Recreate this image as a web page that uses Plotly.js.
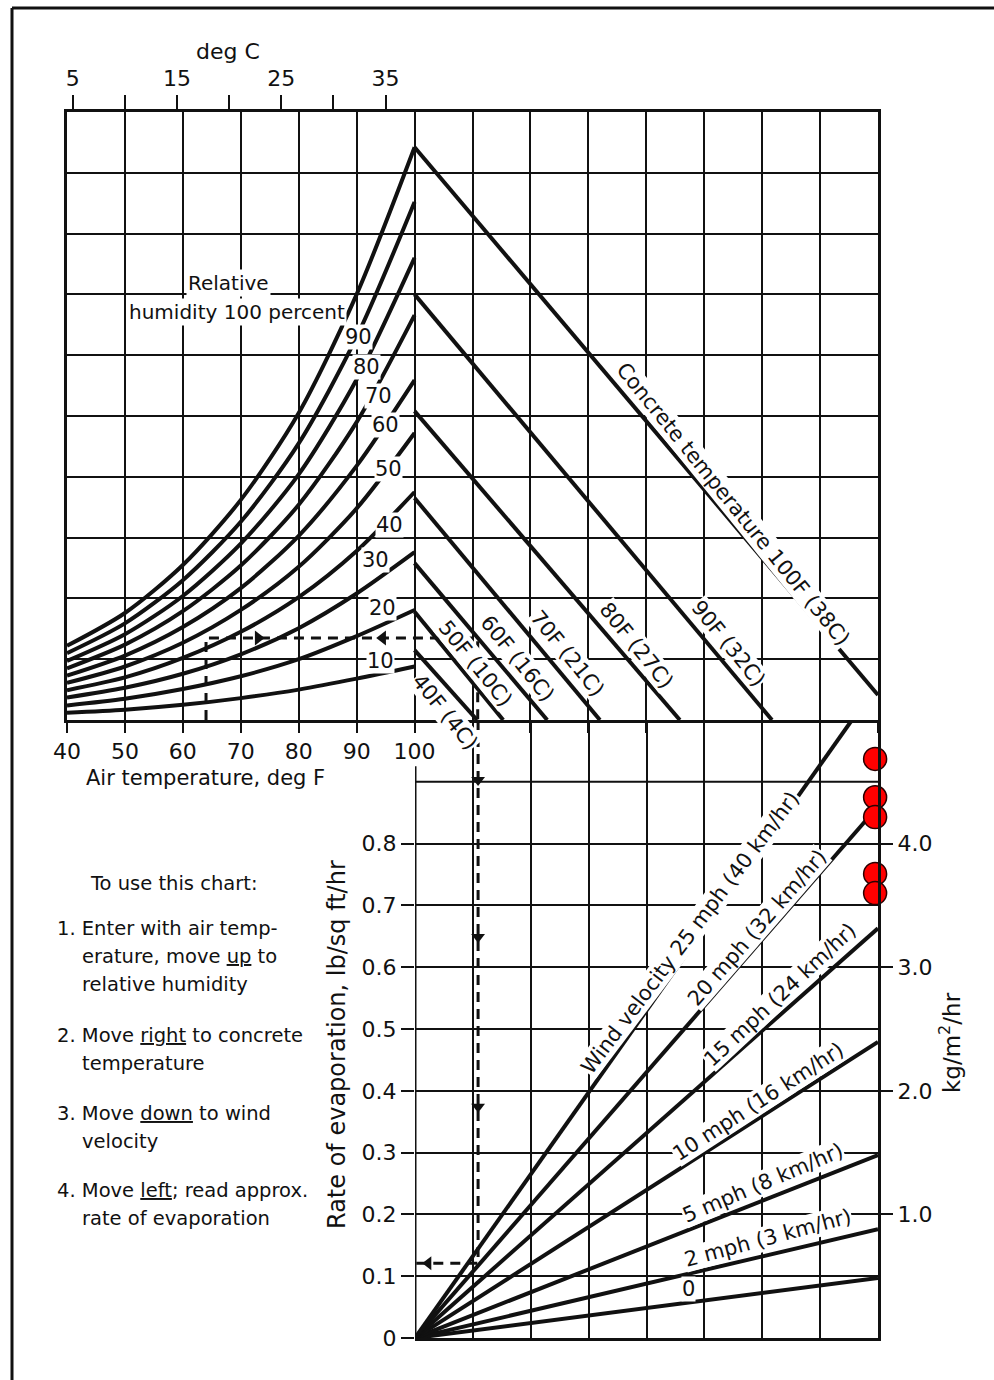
<!DOCTYPE html>
<html><head><meta charset="utf-8">
<script src="https://cdn.plot.ly/plotly-3.0.1.min.js"></script>
<style>html,body{margin:0;padding:0;background:#fff;}#chart{width:994px;height:1380px;}</style>
</head><body><div id="chart"></div>
<script>
// ---------------- data ----------------
const airTempF = [40, 50, 60, 70, 80, 90, 100];
const rhNames = ['100', '90', '80', '70', '60', '50', '40', '30', '20', '10'];
// vapour pressure (psi) read at each air temperature
const rh100 = [0.122, 0.176, 0.255, 0.362, 0.505, 0.700, 0.942];
const rh90  = [0.110, 0.159, 0.230, 0.326, 0.455, 0.630, 0.852];
const rh80  = [0.097, 0.141, 0.204, 0.290, 0.404, 0.560, 0.760];
const rh70  = [0.085, 0.124, 0.179, 0.254, 0.354, 0.490, 0.666];
const rh60  = [0.073, 0.106, 0.153, 0.217, 0.303, 0.418, 0.559];
const rh50  = [0.061, 0.088, 0.127, 0.181, 0.252, 0.348, 0.472];
const rh40  = [0.049, 0.070, 0.102, 0.145, 0.202, 0.278, 0.375];
const rh30  = [0.037, 0.053, 0.076, 0.108, 0.151, 0.208, 0.276];
const rh20  = [0.024, 0.035, 0.051, 0.072, 0.100, 0.138, 0.181];
const rh10  = [0.012, 0.017, 0.025, 0.036, 0.050, 0.068, 0.088];
const rhCurves = [rh100, rh90, rh80, rh70, rh60, rh50, rh40, rh30, rh20, rh10];

const concreteNames = ['40F (4C)', '50F (10C)', '60F (16C)', '70F (21C)', '80F (27C)', '90F (32C)', 'Concrete temperature 100F (38C)'];
const concreteStartVap = [0.115, 0.178, 0.258, 0.365, 0.508, 0.700, 0.942];
const concreteEndX = [110.8, 115.3, 122.9, 132.0, 145.8, 161.7, 180];
const concreteEndVap = [0, 0, 0, 0, 0, 0, 0.041];

const windNames = ['0', '2 mph (3 km/hr)', '5 mph (8 km/hr)', '10 mph (16 km/hr)', '15 mph (24 km/hr)', '20 mph (32 km/hr)', 'Wind velocity 25 mph (40 km/hr)'];
const windEndX = [180, 180, 180, 180, 180, 180, 175.5];
const windEndRate = [0.097, 0.176, 0.296, 0.479, 0.663, 0.860, 1.0];

const redDotX = [179.5, 179.5, 179.5, 179.5, 179.5];
const redDotRate = [0.937, 0.875, 0.843, 0.751, 0.720];

// worked example path
const exAirTemp = 64, exVap = 0.135, exX = 110.9, exRate = 0.121;
const exArrowTopX = [73, 94.5];
const exArrowTopSym = ['triangle-right', 'triangle-left'];
const exArrowDownRate = [0.903, 0.649, 0.374];
const exArrowLeftX = [102.3];

// ticks
const airTicks = [40, 50, 60, 70, 80, 90, 100, 110, 120, 130, 140, 150, 160, 170, 180];
const airTickText = ['40', '50', '60', '70', '80', '90', '100', ' ', ' ', ' ', ' ', ' ', ' ', ' ', ' '];
const degCTicks = [5, 10, 15, 20, 25, 30, 35];
const degCTickText = ['5', ' ', '15', ' ', '25', ' ', '35'];
const vapGrid = [0.1, 0.2, 0.3, 0.4, 0.5, 0.6, 0.7, 0.8, 0.9];
const rateTicks = [0, 0.1, 0.2, 0.3, 0.4, 0.5, 0.6, 0.7, 0.8];
const rateTickText = ['0', '0.1', '0.2', '0.3', '0.4', '0.5', '0.6', '0.7', '0.8'];
const kgTicks = [1, 2, 3, 4];
const kgTickText = ['1.0', '2.0', '3.0', '4.0'];
const bottomVertGrid = [110, 120, 130, 140, 150, 160, 170];

// ---------------- layout helpers ----------------
const W = 994, H = 1380;
const PX = x => x / W;
const PY = y => 1 - y / H;
const FONT = 'DejaVu Sans, Liberation Sans, sans-serif';
const INK = '#111';
const F = (s) => ({family: FONT, size: s, color: INK});

const traces = [];
rhCurves.forEach((ys, i) => traces.push({
  x: airTempF, y: ys, xaxis: 'x', yaxis: 'y', mode: 'lines',
  line: {color: INK, width: 4, shape: 'spline', smoothing: 0.8}, hoverinfo: 'skip', name: rhNames[i]
}));
concreteNames.forEach((n, i) => traces.push({
  x: [100, concreteEndX[i]], y: [concreteStartVap[i], concreteEndVap[i]], xaxis: 'x', yaxis: 'y',
  mode: 'lines', line: {color: INK, width: 4}, hoverinfo: 'skip', name: n
}));
windNames.forEach((n, i) => traces.push({
  x: [100, windEndX[i]], y: [0, windEndRate[i]], xaxis: 'x2', yaxis: 'y2',
  mode: 'lines', line: {color: INK, width: 4}, hoverinfo: 'skip', name: n
}));
// example dashed path
traces.push({x: [exAirTemp, exAirTemp, exX, exX], y: [0, exVap, exVap, 0], xaxis: 'x', yaxis: 'y',
  mode: 'lines', line: {color: INK, width: 3, dash: '10px,7px'}, hoverinfo: 'skip'});
traces.push({x: [exX, exX, 100], y: [1.0, exRate, exRate], xaxis: 'x2', yaxis: 'y2',
  mode: 'lines', line: {color: INK, width: 3, dash: '10px,7px'}, hoverinfo: 'skip'});
traces.push({x: exArrowTopX, y: exArrowTopX.map(() => exVap), xaxis: 'x', yaxis: 'y', mode: 'markers',
  marker: {symbol: exArrowTopSym, size: 13, color: INK}, hoverinfo: 'skip'});
traces.push({x: exArrowDownRate.map(() => exX), y: exArrowDownRate, xaxis: 'x2', yaxis: 'y2', mode: 'markers',
  marker: {symbol: 'triangle-down', size: 12, color: INK}, hoverinfo: 'skip'});
traces.push({x: exArrowLeftX, y: [exRate], xaxis: 'x2', yaxis: 'y2', mode: 'markers',
  marker: {symbol: 'triangle-left', size: 12, color: INK}, hoverinfo: 'skip'});
// empty traces so the deg C axis and the kg/m2/hr axis are drawn
traces.push({x: [], y: [], xaxis: 'x3', yaxis: 'y', mode: 'markers', hoverinfo: 'skip'});
traces.push({x: [], y: [], xaxis: 'x2', yaxis: 'y3', mode: 'markers', hoverinfo: 'skip'});
// red dots
traces.push({x: redDotX, y: redDotRate, xaxis: 'x2', yaxis: 'y2', mode: 'markers', cliponaxis: false,
  marker: {size: 23, color: '#ff0000', line: {color: '#2a0000', width: 1.5}}, hoverinfo: 'skip'});

const ann = [];
function A(text, x, y, size, angle, opt) {
  ann.push(Object.assign({text: text, xref: 'paper', yref: 'paper', x: PX(x), y: PY(y),
    showarrow: false, xanchor: 'center', yanchor: 'middle', textangle: angle || 0,
    font: F(size)}, opt || {}));
}
const BG = {bgcolor: '#ffffff', borderpad: 1};
A('deg C', 228, 52, 22);
A('Air temperature, deg F', 205, 778, 21);
A('Relative', 228, 283, 20, 0, BG);
A('humidity 100 percent', 237, 312, 20, 0, BG);
const rhLabelPos = [[358, 337], [366, 367], [378, 396], [385, 425], [388, 469], [389, 525], [375, 560], [382, 608], [380, 661]];
rhNames.slice(1).forEach((n, i) => A(n, rhLabelPos[i][0], rhLabelPos[i][1], 21, 0, {bgcolor: '#fff', borderpad: 0}));
const concreteLabelPos = [[445, 712], [475, 663], [517, 658], [567, 653], [636, 645], [728, 643], [733, 504]];
concreteNames.forEach((n, i) => A(n, concreteLabelPos[i][0], concreteLabelPos[i][1], 21, 51, {bgcolor: '#fff', borderpad: 0}));
const windLabelPos = [[688, 1289, 0], [768, 1238, -15], [763, 1183, -23], [758, 1102, -33], [780, 995, -43], [757, 928, -49], [690, 933, -53]];
windNames.forEach((n, i) => A(n, windLabelPos[i][0], windLabelPos[i][1], 21, windLabelPos[i][2], {bgcolor: '#fff', borderpad: 0}));
A('Rate of evaporation, lb/sq ft/hr', 337, 1045, 24, -90);
A('kg/m<sup>2</sup>/hr', 950, 1043, 23, -90);
// instructions
const L = {xanchor: 'left'};
A('To use this chart:', 88, 883, 19.5, 0, L);
A('1. Enter with air temp-', 55, 928, 19.5, 0, L);
A('erature, move <u>up</u> to', 80, 956, 19.5, 0, L);
A('relative humidity', 80, 984, 19.5, 0, L);
A('2. Move <u>right</u> to concrete', 55, 1035, 19.5, 0, L);
A('temperature', 80, 1063, 19.5, 0, L);
A('3. Move <u>down</u> to wind', 55, 1113, 19.5, 0, L);
A('velocity', 80, 1141, 19.5, 0, L);
A('4. Move <u>left</u>; read approx.', 55, 1190, 19.5, 0, L);
A('rate of evaporation', 80, 1218, 19.5, 0, L);

const shapes = [
  // outer frame (top and left edges)
  {type: 'line', xref: 'paper', yref: 'paper', x0: PX(12), y0: PY(8), x1: PX(994), y1: PY(8), line: {color: INK, width: 3}},
  {type: 'line', xref: 'paper', yref: 'paper', x0: PX(12), y0: PY(8), x1: PX(12), y1: PY(1380), line: {color: INK, width: 3}},
  // left axis of evaporation chart (stops below the "100" label)
  {type: 'line', xref: 'x2', yref: 'y2', x0: 100, y0: 0, x1: 100, y1: 0.925, line: {color: INK, width: 3}, layer: 'below'},
  // 0.9 gridline
  {type: 'line', xref: 'x2', yref: 'y2', x0: 100, y0: 0.9, x1: 180, y1: 0.9, line: {color: INK, width: 2}, layer: 'below'}
];

const gridStyle = {showgrid: true, gridcolor: INK, gridwidth: 2, zeroline: false};
const layout = {
  width: W, height: H, margin: {l: 0, r: 0, t: 0, b: 0},
  paper_bgcolor: '#fff', plot_bgcolor: 'rgba(0,0,0,0)', showlegend: false,
  font: F(22),
  xaxis: Object.assign({domain: [PX(67), PX(878)], range: [40, 180], anchor: 'y',
    tickvals: airTicks, ticktext: airTickText, ticks: 'outside', ticklen: 10, tickwidth: 2, tickcolor: INK,
    showline: true, linewidth: 3, linecolor: INK, tickfont: F(22)}, gridStyle),
  xaxis3: {overlaying: 'x', side: 'top', anchor: 'y', range: [(40 - 32) / 1.8, (180 - 32) / 1.8],
    tickvals: degCTicks, ticktext: degCTickText, ticks: 'outside', ticklen: 14, tickwidth: 2, tickcolor: INK,
    showline: true, linewidth: 3, linecolor: INK, showgrid: false, zeroline: false, tickfont: F(22)},
  yaxis: Object.assign({domain: [PY(720), PY(112)], range: [0, 1], anchor: 'x',
    tickvals: vapGrid, showticklabels: false, ticks: '',
    showline: true, mirror: true, linewidth: 3, linecolor: INK}, gridStyle),
  xaxis2: Object.assign({domain: [PX(415), PX(878)], range: [100, 180], anchor: 'y2',
    tickvals: bottomVertGrid, showticklabels: false, ticks: '',
    showline: true, linewidth: 3, linecolor: INK}, gridStyle),
  yaxis2: Object.assign({domain: [PY(1338), PY(720)], range: [0, 1], anchor: 'x2',
    tickvals: rateTicks, ticktext: rateTickText, ticks: 'outside', ticklen: 13, tickwidth: 2, tickcolor: INK,
    showline: false, tickfont: F(22)}, gridStyle),
  yaxis3: {overlaying: 'y2', side: 'right', anchor: 'x2', range: [0, 5],
    tickvals: kgTicks, ticktext: kgTickText, ticks: 'outside', ticklen: 12, tickwidth: 2, tickcolor: INK,
    showline: true, linewidth: 3, linecolor: INK, showgrid: false, zeroline: false, tickfont: F(22)},
  annotations: ann, shapes: shapes
};
Plotly.newPlot('chart', traces, layout, {staticPlot: true, displayModeBar: false});
</script></body></html>
